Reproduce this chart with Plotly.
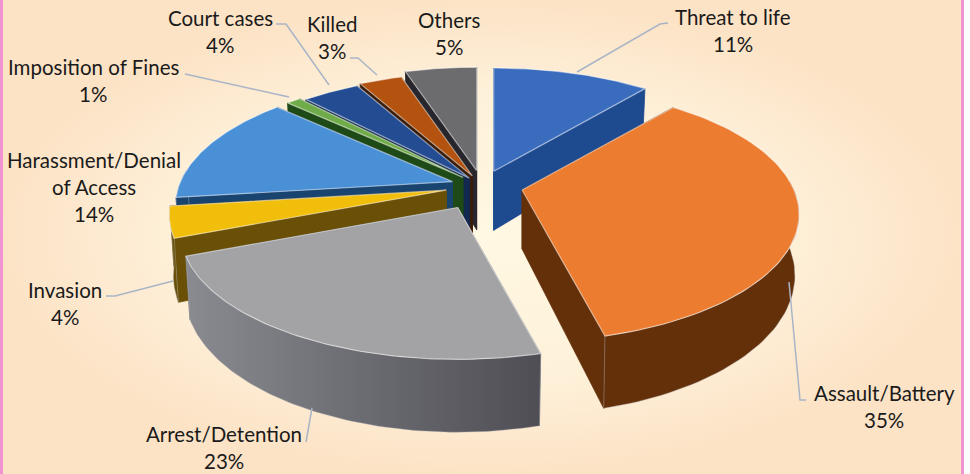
import numpy as np
import plotly.graph_objects as go

# ---- data ----
categories = ["Threat to life", "Assault/Battery", "Arrest/Detention", "Invasion",
              "Harassment/Denial of Access", "Imposition of Fines", "Court cases", "Killed", "Others"]
values = [11, 35, 23, 4, 14, 1, 4, 3, 5]
explode = [0.13, 0.15, 0.19, 0.135, 0.115, 0.10, 0.08, 0.09, 0.13]

# ---- style ----
top_colors = ["#3A6CBE", "#EC7C30", "#A3A3A5", "#F2BE0C", "#4A90D6", "#6FAB48", "#234C92", "#B4530F", "#6C6C6E"]
wall_colors = ["#1E4A90", "#64300A", "#6A6A70", "#6A5006", "#1A4470", "#1D4A16", "#13294F", "#3A1C08", "#26262C"]
draw_order = [8, 7, 6, 5, 4, 3, 0, 1, 2]

CX, CY, RX, RY, K, DEPTH = 482, 186, 272, 123, 0.19, 59
W, H = 970, 474
PAGE_W = 964


def project(u, v):
    s = 1 / (1 + K * v)
    return RX * u * s, -RY * v * s, s


fig = go.Figure()

# background
fig.add_trace(go.Scatter(
    x=[0, PAGE_W, PAGE_W, 0, 0], y=[0, 0, H, H, 0], mode="lines", line=dict(width=0),
    fill="toself",
    fillgradient=dict(type="radial", colorscale=[[0, "#FFF8E2"], [0.6, "#FEF1DA"], [1, "#FCE3C6"]]),
    hoverinfo="skip", showlegend=False))


def poly(xs, ys, color, line_color=None, width=0, gradient=None):
    kw = dict(fillgradient=gradient) if gradient else dict(fillcolor=color)
    fig.add_trace(go.Scatter(
        x=list(xs) + [xs[0]], y=list(ys) + [ys[0]], mode="lines", fill="toself",
        line=dict(color=line_color or color, width=width), hoverinfo="skip", showlegend=False, **kw))


edges = np.concatenate([[0], np.cumsum(values)]) / sum(values) * 2 * np.pi

for i in draw_order:
    a0, a1 = edges[i], edges[i + 1]
    mid = (a0 + a1) / 2
    ox, oy, _ = project(explode[i] * np.sin(mid), explode[i] * np.cos(mid))
    ax, ay = CX + ox, CY + oy
    th = np.linspace(a0, a1, 80)
    px, py, ps = project(np.sin(th), np.cos(th))
    tx, ty = ax + px, ay + py
    d = DEPTH * ps
    bx, by = ax + px * 0.985, ay + py + d
    ad = DEPTH
    wall_line = "rgba(175,175,180,0.5)"
    # cut faces
    poly([ax, tx[0], bx[0], ax], [ay, ty[0], by[0], ay + ad], wall_colors[i], wall_colors[i], 0.8)
    poly([ax, tx[-1], bx[-1], ax], [ay, ty[-1], by[-1], ay + ad], wall_colors[i], wall_colors[i], 0.8)
    # outer wall: only the part of the rim that faces the viewer
    front = np.cos(th) < 0.1
    if front.any():
        grad = None
        if i == 2:
            grad = dict(type="horizontal", colorscale=[[0, "#8A8B90"], [0.45, "#6E6F74"], [1, "#4E4E54"]])
        poly(list(tx[front]) + list(bx[front][::-1]), list(ty[front]) + list(by[front][::-1]),
             wall_colors[i], wall_line, 0.8, grad)
    # top surface
    poly([ax] + list(tx), [ay] + list(ty), top_colors[i], "rgba(255,255,255,0.5)", 1.2)

# ---- labels ----
LINE_GAP = 27
label_lines = [
    ([categories[0]], 733, 17),
    ([categories[1]], 884, 393),
    ([categories[2]], 224, 434),
    ([categories[3]], 65, 290),
    (["Harassment/Denial", "of Access"], 94, 160),
    ([categories[5]], 93, 67),
    ([categories[6]], 220, 18),
    ([categories[7]], 332, 24),
    ([categories[8]], 449, 20),
]
for (lines, lx, ly), val in zip(label_lines, values):
    for j, txt in enumerate(lines + [f"{val}%"]):
        fig.add_annotation(x=lx, y=ly + j * LINE_GAP, text=txt, showarrow=False, xanchor="center",
                           yanchor="middle", font=dict(family="Lato", size=20.5, color="#1a1a1a"))

leaders = [
    ([668, 660, 577], [23, 24, 72]),
    ([806, 800, 789], [400, 400, 282]),
    ([306, 312], [442, 408]),
    ([106, 115, 173], [296, 296, 281]),
    ([185, 289], [74, 97]),
    ([276, 286, 329], [24, 24, 85]),
    ([350, 358, 377], [58, 58, 75]),
]
for lx, ly in leaders:
    fig.add_trace(go.Scatter(x=lx, y=ly, mode="lines", line=dict(color="#A9B5C6", width=1.5),
                             hoverinfo="skip", showlegend=False))

# pink borders
for x0, x1 in [(0, 3), (PAGE_W - 3, PAGE_W)]:
    fig.add_shape(type="rect", x0=x0, x1=x1, y0=0, y1=H, line=dict(width=0), fillcolor="#F194D2")

fig.update_layout(
    width=W, height=H, margin=dict(l=0, r=0, t=0, b=0),
    paper_bgcolor="white", plot_bgcolor="white", showlegend=False,
    xaxis=dict(range=[0, W], visible=False, fixedrange=True),
    yaxis=dict(range=[H, 0], visible=False, fixedrange=True),
)
fig.write_html("out.html", config=dict(displayModeBar=False),
               post_script="document.body.style.margin='0';document.documentElement.style.overflow='hidden';")
